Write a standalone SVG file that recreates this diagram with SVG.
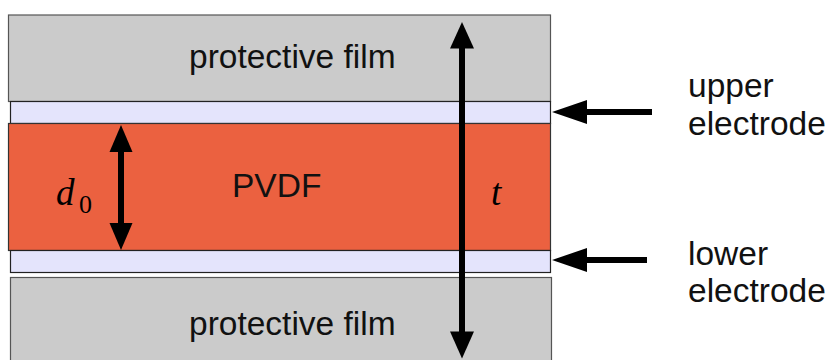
<svg xmlns="http://www.w3.org/2000/svg" width="833" height="360" viewBox="0 0 833 360">
  <style>
    .film { fill: #cbcbcb; stroke: #555555; stroke-width: 1.2; }
    .electrode { fill: #e4e4fc; stroke: #222222; stroke-width: 1.2; }
    .pvdf { fill: #eb6140; stroke: #333333; stroke-width: 1.2; }
    .label { font-family: "Liberation Sans", Arial, sans-serif; font-size: 33.5px; fill: #111111; }
    .sym { font-family: "Liberation Serif", "Times New Roman", serif; font-style: italic; font-size: 37px; fill: #000000; }
    .sub { font-family: "Liberation Serif", "Times New Roman", serif; font-size: 26px; fill: #000000; }
    .shaft { stroke: #000000; stroke-width: 6; fill: none; }
    .head { fill: #000000; }
  </style>

  <!-- upper protective film -->
  <g id="film-top">
    <rect class="film" x="8.5" y="15" width="542" height="86.5"/>
    <text class="label" x="189" y="68">protective film</text>
  </g>

  <!-- upper electrode -->
  <g id="electrode-top">
    <rect class="electrode" x="10.5" y="101.5" width="540" height="22"/>
  </g>

  <!-- PVDF layer -->
  <g id="pvdf">
    <rect class="pvdf" x="8.5" y="123.5" width="542" height="127"/>
    <text class="label" x="232" y="197">PVDF</text>
  </g>

  <!-- lower electrode -->
  <g id="electrode-bottom">
    <rect class="electrode" x="10.5" y="250.5" width="540" height="22"/>
  </g>

  <!-- lower protective film -->
  <g id="film-bottom">
    <rect class="film" x="10.5" y="277.5" width="541" height="90"/>
    <text class="label" x="189" y="335">protective film</text>
  </g>

  <!-- side labels -->
  <g id="label-upper">
    <text class="label" x="688" y="97">upper</text>
    <text class="label" x="688" y="135">electrode</text>
  </g>
  <g id="label-lower">
    <text class="label" x="688" y="265">lower</text>
    <text class="label" x="688" y="302">electrode</text>
  </g>

  <!-- dimension symbols -->
  <g id="sym-d0">
    <text class="sym" x="56" y="205">d</text>
    <text class="sub" x="79" y="213">0</text>
  </g>
  <g id="sym-t">
    <text class="sym" x="491" y="205">t</text>
  </g>

  <!-- arrows -->
  <g id="connectors">
    <!-- total thickness t -->
    <line class="shaft" x1="462" y1="44" x2="462" y2="336"/>
    <polygon class="head" points="462,22 450,48.5 474,48.5"/>
    <polygon class="head" points="462,358.5 450,331.5 474,331.5"/>
    <!-- PVDF thickness d0 -->
    <line class="shaft" x1="121" y1="145" x2="121" y2="230"/>
    <polygon class="head" points="121,125 109.5,152 132.5,152"/>
    <polygon class="head" points="121,250 109.5,223 132.5,223"/>
    <!-- electrode pointers -->
    <line class="shaft" x1="580" y1="112" x2="652" y2="112"/>
    <polygon class="head" points="552,112 587,100 587,124"/>
    <line class="shaft" x1="580" y1="260" x2="647" y2="260"/>
    <polygon class="head" points="552,260 587,248 587,272"/>
  </g>
</svg>
